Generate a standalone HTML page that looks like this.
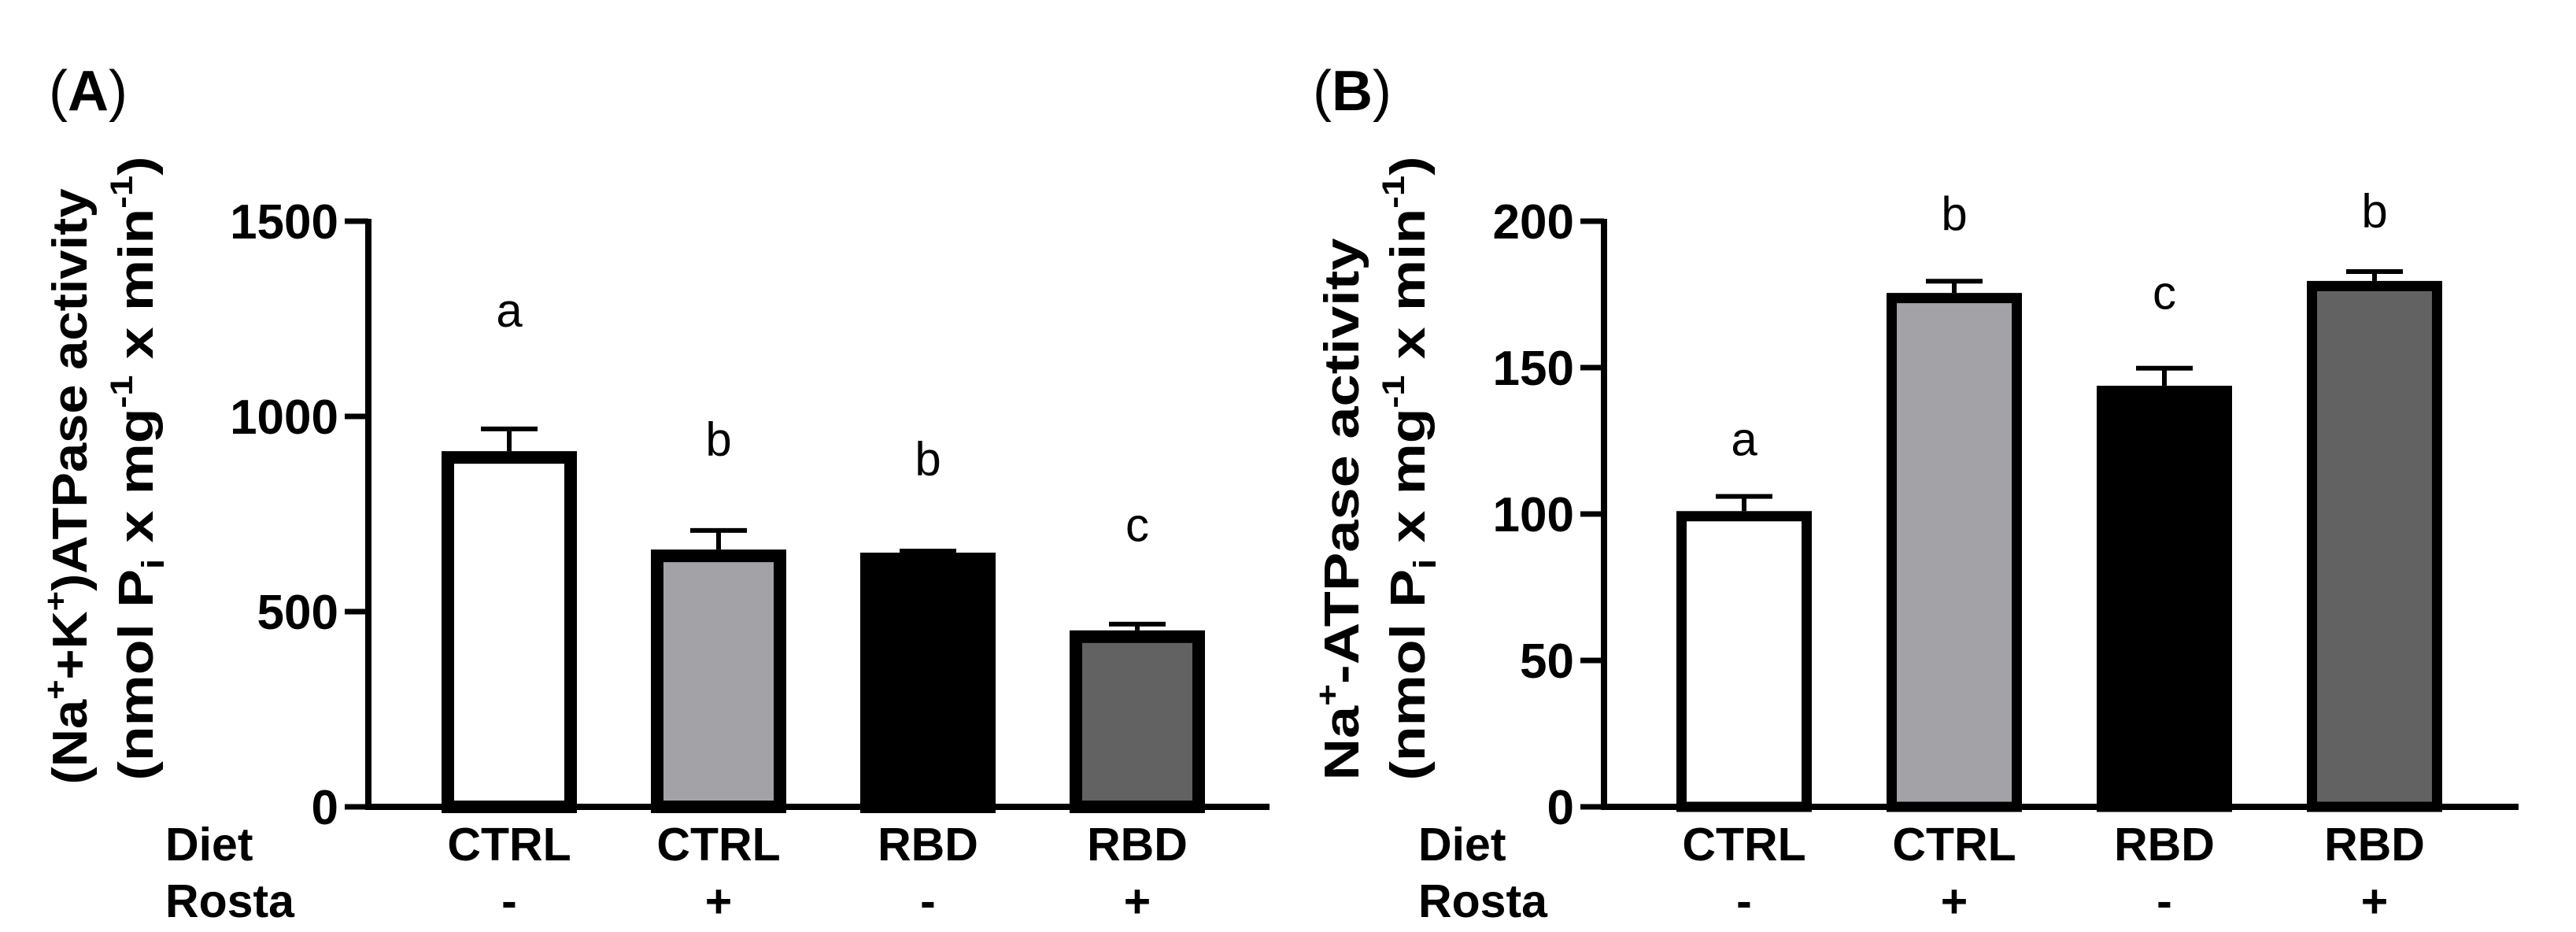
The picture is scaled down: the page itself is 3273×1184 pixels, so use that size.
<!DOCTYPE html>
<html><head><meta charset="utf-8"><style>
html,body{margin:0;padding:0;background:#fff}
svg{display:block}
text{font-family:"Liberation Sans",Arial,sans-serif}
</style></head><body>
<svg id="fig" xmlns="http://www.w3.org/2000/svg" width="3273" height="1184" viewBox="0 0 3273 1184">
<g id="panelA"></g>
<g id="panelB"></g>
</svg>
<script>
const NS='http://www.w3.org/2000/svg';
const dietLabels=['CTRL','CTRL','RBD','RBD'];
const rostaLabels=['-','+','-','+'];
const fills=['#ffffff','#a3a2a7','#000000','#626262'];
const aValues=[911,659,651,452];
const aErrors=[57,49,4,16];
const aLetters=['a','b','b','c'];
const aLetterY=[1230,900,850,680];
const aTicks=[0,500,1000,1500];
const bValues=[101,175.5,143.8,179.6];
const bErrors=[5,4,6,3.2];
const bLetters=['a','b','c','b'];
const bLetterY=[120,197,170,198];
const bTicks=[0,50,100,150,200];

function mk(parent,tag,attrs,name,text){
  const el=document.createElementNS(NS,tag);
  for(const k in attrs) el.setAttribute(k,attrs[k]);
  
  
  if(text!==undefined) el.textContent=text;
  parent.appendChild(el);return el;
}
function panel(g,cfg){
  const y=v=>cfg.y0-(v/cfg.max)*(cfg.y0-cfg.yTop);
  const x=i=>cfg.c0+i*cfg.step;
  const bw=cfg.bw, sw=cfg.sw;
  cfg.values.forEach((v,i)=>{
    const top=y(v);
    mk(g,'rect',{x:x(i)-bw/2+sw/2,y:top+sw/2,width:bw-sw,height:cfg.y0-top-sw/2,fill:fills[i],stroke:'#000','stroke-width':sw},'bar-'+(i+1));
    const et=y(v+cfg.errors[i]);
    mk(g,'line',{x1:x(i),x2:x(i),y1:top,y2:et,stroke:'#000','stroke-width':6},'error-bar-'+(i+1));
    mk(g,'line',{x1:x(i)-36,x2:x(i)+36,y1:et,y2:et,stroke:'#000','stroke-width':6},'error-cap-'+(i+1));
    mk(g,'text',{x:x(i),y:y(cfg.letterY[i]),'text-anchor':'middle','font-size':60},'significance-letter-'+(i+1),cfg.letters[i]);
    mk(g,'text',{x:x(i),y:1093,'text-anchor':'middle','font-size':59,'font-weight':'bold'},'diet-label-'+(i+1),dietLabels[i]);
    mk(g,'text',{x:x(i),y:1165,'text-anchor':'middle','font-size':59,'font-weight':'bold'},'rosta-label-'+(i+1),rostaLabels[i]);
  });
  mk(g,'line',{x1:cfg.ax,x2:cfg.ax,y1:cfg.yTop-3,y2:cfg.y0+4,stroke:'#000','stroke-width':8},'y-axis');
  mk(g,'line',{x1:cfg.ax-4,x2:cfg.xEnd,y1:cfg.y0,y2:cfg.y0,stroke:'#000','stroke-width':8},'x-axis');
  cfg.ticks.forEach(t=>{
    mk(g,'line',{x1:cfg.ax-30,x2:cfg.ax,y1:y(t),y2:y(t),stroke:'#000','stroke-width':7},'y-tick-'+t);
    mk(g,'text',{x:cfg.ax-38,y:y(t)+22,'text-anchor':'end','font-size':62,'font-weight':'bold'},'y-tick-label-'+t,String(t));
  });
  mk(g,'text',{x:cfg.dietX,y:1093,'font-size':59,'font-weight':'bold'},'diet-row-label','Diet');
  mk(g,'text',{x:cfg.dietX,y:1165,'font-size':59,'font-weight':'bold'},'rosta-row-label','Rosta');
  const pl=mk(g,'text',{x:cfg.pX,y:140,'font-size':72},'panel-label','(');
  const ts=document.createElementNS(NS,'tspan');ts.setAttribute('font-weight','bold');ts.textContent=cfg.pL;pl.appendChild(ts);
  pl.appendChild(document.createTextNode(')'));
  const t1=mk(g,'text',{x:0,y:0,'font-size':62,'font-weight':'bold','text-anchor':'middle',textLength:cfg.l1,lengthAdjust:'spacingAndGlyphs',transform:`translate(${cfg.t1x},${cfg.c1}) rotate(-90)`},'y-axis-title-line1','');
  t1.innerHTML=cfg.title1;
  const t2=mk(g,'text',{x:0,y:0,'font-size':62,'font-weight':'bold','text-anchor':'middle',textLength:cfg.l2,lengthAdjust:'spacingAndGlyphs',transform:`translate(${cfg.t2x},${cfg.c2}) rotate(-90)`},'y-axis-title-line2','');
  t2.innerHTML='(nmol P<tspan font-size="40" dy="14">i</tspan><tspan dy="-14"> x mg</tspan><tspan font-size="40" dy="-26">-1</tspan><tspan dy="26"> x min</tspan><tspan font-size="40" dy="-26">-1</tspan><tspan dy="26">)</tspan>';
}
panel(document.getElementById('panelA'),{values:aValues,errors:aErrors,letters:aLetters,letterY:aLetterY,ticks:aTicks,max:1500,
  y0:1025,yTop:281,ax:468,xEnd:1613,c0:647,step:266,bw:172,sw:16,dietX:210,pX:62,pL:'A',t1x:110,t2x:194,c1:618,c2:595,l1:757,l2:793,
  title1:'(Na<tspan font-size="40" dy="-26">+</tspan><tspan dy="26">+K</tspan><tspan font-size="40" dy="-26">+</tspan><tspan dy="26">)ATPase activity</tspan>'});
panel(document.getElementById('panelB'),{values:bValues,errors:bErrors,letters:bLetters,letterY:bLetterY,ticks:bTicks,max:200,
  y0:1025,yTop:281,ax:2038,xEnd:3200,c0:2216,step:267,bw:172,sw:13,dietX:1802,pX:1668,pL:'B',t1x:1726,t2x:1810,c1:647,c2:595,l1:689,l2:793,
  title1:'Na<tspan font-size="40" dy="-26">+</tspan><tspan dy="26">-ATPase activity</tspan>'});
</script>
</body></html>
